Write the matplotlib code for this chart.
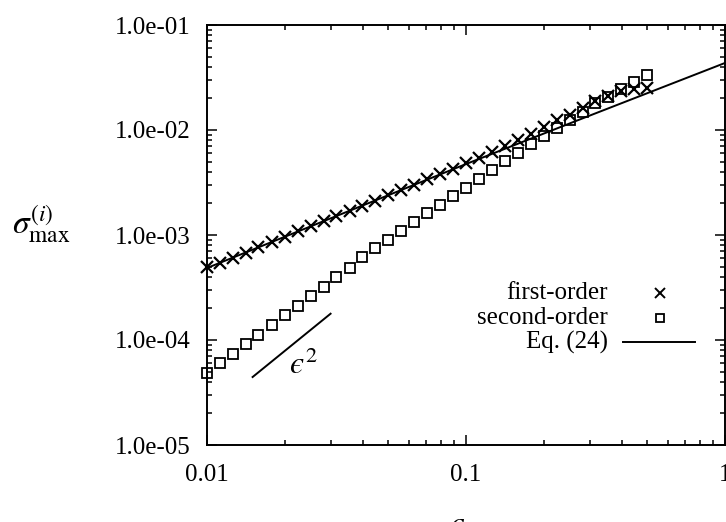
import numpy as np
import matplotlib
matplotlib.use("Agg")
import matplotlib.pyplot as plt

plt.rcParams['font.family'] = ['Liberation Serif', 'DejaVu Serif']
plt.rcParams['mathtext.fontset'] = 'stix'

# epsilon values of the computed points
eps = [0.0100, 0.0112, 0.0126, 0.0141, 0.0158, 0.0178, 0.0200, 0.0224, 0.0251,
       0.0282, 0.0316, 0.0355, 0.0398, 0.0447, 0.0501, 0.0562, 0.0631, 0.0708,
       0.0794, 0.0891, 0.1000, 0.1122, 0.1259, 0.1413, 0.1585, 0.1778, 0.1995,
       0.2239, 0.2512, 0.2818, 0.3162, 0.3548, 0.3981, 0.4467, 0.5012]

first_order = [4.96e-4, 5.41e-4, 6.04e-4, 6.74e-4, 7.69e-4, 8.58e-4, 9.57e-4,
               1.09e-3, 1.22e-3, 1.36e-3, 1.52e-3, 1.69e-3, 1.89e-3, 2.13e-3,
               2.40e-3, 2.68e-3, 2.99e-3, 3.41e-3, 3.81e-3, 4.25e-3, 4.80e-3,
               5.41e-3, 6.17e-3, 7.04e-3, 8.03e-3, 9.16e-3, 1.07e-2, 1.245e-2,
               1.39e-2, 1.62e-2, 1.89e-2, 2.11e-2, 2.35e-2, 2.46e-2, 2.51e-2]

second_order = [4.85e-5, 6.04e-5, 7.36e-5, 9.16e-5, 1.116e-4, 1.39e-4, 1.73e-4,
                2.11e-4, 2.62e-4, 3.20e-4, 3.98e-4, 4.85e-4, 6.17e-4, 7.52e-4,
                8.96e-4, 1.09e-3, 1.33e-3, 1.62e-3, 1.93e-3, 2.35e-3, 2.80e-3,
                3.41e-3, 4.16e-3, 5.07e-3, 6.04e-3, 7.36e-3, 8.77e-3, 1.045e-2,
                1.245e-2, 1.48e-2, 1.81e-2, 2.06e-2, 2.46e-2, 2.87e-2, 3.34e-2]

# Eq. (24) curve
eq_x = [0.01, 0.03, 0.1, 0.3, 1.0]
eq_y = [4.85e-4, 1.44e-3, 4.74e-3, 1.37e-2, 4.35e-2]

# eps^2 guide
slope_x = [0.015, 0.030]
slope_y = [4.44e-5, 1.78e-4]

fig = plt.figure(figsize=(7.26, 5.22), dpi=100)
ax = fig.add_axes([207/726, 77/522, 518/726, 420/522])

ax.plot(eq_x, eq_y, color='black', lw=1.4)
ax.plot(eps, first_order, 'x', color='black', ms=9, mew=1.6, clip_on=False)
ax.plot(eps, second_order, 's', mfc='none', mec='black', ms=7.5, mew=1.3, clip_on=False)
ax.plot(slope_x, slope_y, color='black', lw=1.4)
ax.text(0.0236, 5.7e-5, '$\u03f5^2$', fontsize=23, ha='center', va='center')

ax.set_xscale('log')
ax.set_yscale('log')
ax.set_xlim(0.01, 1)
ax.set_ylim(1e-5, 1e-1)
ax.set_xticks([0.01, 0.1, 1])
ax.set_xticklabels(['0.01', '0.1', '1'])
ax.set_yticks([1e-5, 1e-4, 1e-3, 1e-2, 1e-1])
ax.set_yticklabels(['1.0e-05', '1.0e-04', '1.0e-03', '1.0e-02', '1.0e-01'])
ax.tick_params(which='both', direction='in', top=True, right=True, width=1.1)
ax.tick_params(which='major', length=7, labelsize=18, pad=14)
ax.tick_params(which='minor', length=3.5)
ax.tick_params(axis='y', which='major', pad=12)
for s in ax.spines.values():
    s.set_linewidth(1.4)

# gnuplot style key: right aligned text, sample on the right
rows = [0.362, 0.302, 0.245]
ax.text(0.774, rows[0], 'first-order', transform=ax.transAxes, ha='right', va='center', fontsize=18)
ax.text(0.774, rows[1], 'second-order', transform=ax.transAxes, ha='right', va='center', fontsize=18)
ax.text(0.774, rows[2], 'Eq. (24)', transform=ax.transAxes, ha='right', va='center', fontsize=18)
ax.plot([0.875], [rows[0]], 'x', color='black', ms=6.5, mew=1.4, transform=ax.transAxes)
ax.plot([0.875], [rows[1]], 's', mfc='none', mec='black', ms=6, mew=1.3, transform=ax.transAxes)
ax.plot([0.803, 0.942], [rows[2], rows[2]], color='black', lw=1.4, transform=ax.transAxes)

fig.text(41/726, 1 - 224/522, r'$\sigma_{\rm max}^{(i)}$', fontsize=24, ha='center', va='center')
fig.text(457/726, 1 - 511/522, '$\u03f5$', fontsize=24, ha='center', va='top')

fig.savefig('out.png', dpi=100)
